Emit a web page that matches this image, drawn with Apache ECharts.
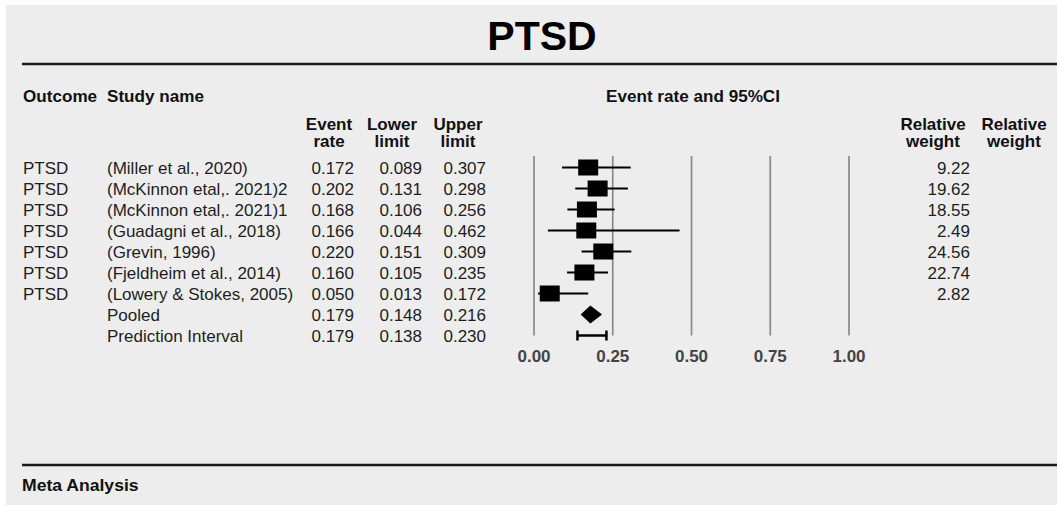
<!DOCTYPE html>
<html>
<head>
<meta charset="utf-8">
<script src="https://cdn.jsdelivr.net/npm/echarts@6/dist/echarts.min.js"></script>
<style>html,body{margin:0;padding:0;background:#fff;}#c{width:1057px;height:505px;}</style>
</head>
<body>
<div id="c"></div>
<script>
// ---- data ----
const chartTitle = 'PTSD';
const footerText = 'Meta Analysis';
const outcomes = ['PTSD', 'PTSD', 'PTSD', 'PTSD', 'PTSD', 'PTSD', 'PTSD'];
const studies = [
  '(Miller et al., 2020)',
  '(McKinnon etal,. 2021)2',
  '(McKinnon etal,. 2021)1',
  '(Guadagni et al., 2018)',
  '(Grevin, 1996)',
  '(Fjeldheim et al., 2014)',
  '(Lowery & Stokes, 2005)'
];
const eventRate = [0.172, 0.202, 0.168, 0.166, 0.220, 0.160, 0.050];
const lowerLimit = [0.089, 0.131, 0.106, 0.044, 0.151, 0.105, 0.013];
const upperLimit = [0.307, 0.298, 0.256, 0.462, 0.309, 0.235, 0.172];
const relativeWeight = [9.22, 19.62, 18.55, 2.49, 24.56, 22.74, 2.82];
const summaryLabels = ['Pooled', 'Prediction Interval'];
const pooledRow = [0.179, 0.148, 0.216];      // rate, lower, upper
const predictionRow = [0.179, 0.138, 0.230];  // rate, lower, upper
const xTicks = [0, 0.25, 0.5, 0.75, 1.0];

// ---- chart ----
const FONT = '"Liberation Sans", Arial, Helvetica, sans-serif';
const chart = echarts.init(document.getElementById('c'), null, { renderer: 'svg' });
const n = studies.length;

const option = {
  backgroundColor: '#ededed',
  animation: false,
  grid: { left: 534, width: 315, top: 157, height: 189 },
  xAxis: {
    type: 'value', min: 0, max: 1, interval: 0.25,
    axisLine: { show: false, onZero: false }, axisTick: { show: false }, splitLine: { show: false },
    axisLabel: { formatter: v => v.toFixed(2), fontSize: 17, fontWeight: 'bold', color: '#444', margin: 2, fontFamily: FONT }
  },
  yAxis: { type: 'value', inverse: true, min: -0.5, max: 8.5, show: false },
  series: [
    {
      type: 'custom', name: 'ref lines', silent: true, z: 1,
      data: xTicks.map(v => [v]),
      renderItem: (p, api) => {
        const a = api.coord([api.value(0), -0.55]);
        const b = api.coord([api.value(0), 8.0]);
        return { type: 'line', shape: { x1: a[0], y1: a[1], x2: b[0], y2: b[1] }, style: { stroke: '#8a8a8a', lineWidth: 1.7 } };
      }
    },
    {
      type: 'custom', name: 'CI', z: 2,
      data: studies.map((s, i) => [lowerLimit[i], upperLimit[i], i]),
      renderItem: (p, api) => {
        const a = api.coord([api.value(0), api.value(2)]);
        const b = api.coord([api.value(1), api.value(2)]);
        return { type: 'line', shape: { x1: a[0], y1: a[1], x2: b[0], y2: b[1] }, style: { stroke: '#000', lineWidth: 2 } };
      }
    },
    {
      type: 'scatter', name: 'Event rate', z: 3,
      data: studies.map((s, i) => [eventRate[i], i]),
      symbol: 'rect', symbolSize: [20, 16],
      itemStyle: { color: '#000', opacity: 1 },
      emphasis: { disabled: true }
    },
    {
      type: 'custom', name: 'Pooled', z: 3,
      data: [[pooledRow[1], pooledRow[2], pooledRow[0], n]],
      renderItem: (p, api) => {
        const l = api.coord([api.value(0), api.value(3)]);
        const r = api.coord([api.value(1), api.value(3)]);
        const c = api.coord([api.value(2), api.value(3)]);
        const h = 9;
        return { type: 'polygon', shape: { points: [[l[0], l[1]], [c[0], c[1] - h], [r[0], r[1]], [c[0], c[1] + h]] }, style: { fill: '#000' } };
      }
    },
    {
      type: 'custom', name: 'Prediction Interval', z: 3,
      data: [[predictionRow[1], predictionRow[2], n + 1]],
      renderItem: (p, api) => {
        const l = api.coord([api.value(0), api.value(2)]);
        const r = api.coord([api.value(1), api.value(2)]);
        const t = 5;
        const st = { stroke: '#000', lineWidth: 2.5 };
        return {
          type: 'group', children: [
            { type: 'line', shape: { x1: l[0], y1: l[1], x2: r[0], y2: r[1] }, style: st },
            { type: 'line', shape: { x1: l[0], y1: l[1] - t, x2: l[0], y2: l[1] + t }, style: st },
            { type: 'line', shape: { x1: r[0], y1: r[1] - t, x2: r[0], y2: r[1] + t }, style: st }
          ]
        };
      }
    }
  ]
};
chart.setOption(option);

// ---- table text (positions from the y axis) ----
const rowY = i => chart.convertToPixel({ yAxisIndex: 0 }, i);
function txt(text, x, y, o) {
  o = o || {};
  const align = o.align || 'left';
  return {
    type: 'text', x: x, y: y, scaleX: o.scaleX || 1, z: 10, silent: true,
    style: {
      text: text, fill: o.color || '#1e1e1e',
      font: (o.weight || 'normal') + ' ' + (o.size || 17) + 'px ' + FONT,
      align: align, textAlign: align, verticalAlign: 'middle', textVerticalAlign: 'middle'
    }
  };
}
const g = [];
// white outer margins
g.push({ type: 'rect', x: 0, y: 0, shape: { width: 1057, height: 5 }, style: { fill: '#fff' }, z: 0, silent: true });
g.push({ type: 'rect', x: 0, y: 0, shape: { width: 6, height: 505 }, style: { fill: '#fff' }, z: 0, silent: true });
// title + rules
g.push(txt(chartTitle, 542, 36, { align: 'center', size: 41, weight: 'bold', color: '#000' }));
g.push({ type: 'line', shape: { x1: 22, y1: 64, x2: 1057, y2: 64 }, style: { stroke: '#1a1a1a', lineWidth: 2.5 }, z: 5, silent: true });
g.push({ type: 'line', shape: { x1: 22, y1: 465, x2: 1057, y2: 465 }, style: { stroke: '#1a1a1a', lineWidth: 2.5 }, z: 5, silent: true });
g.push(txt(footerText, 22, 486, { size: 16, weight: 'bold', color: '#111', scaleX: 1.1 }));
// headers
const H = { weight: 'bold', size: 16, color: '#111', scaleX: 1.07 };
g.push(txt('Outcome', 23, 97, H));
g.push(txt('Study name', 107, 97, H));
g.push(txt('Event rate and 95%CI', 693, 97, Object.assign({}, H, { align: 'center' })));
const HC = { weight: 'bold', size: 17, color: '#111', align: 'center' };
[['Event', 'rate', 329], ['Lower', 'limit', 392], ['Upper', 'limit', 458], ['Relative', 'weight', 933], ['Relative', 'weight', 1014]]
  .forEach(h => { g.push(txt(h[0], h[2], 124, HC)); g.push(txt(h[1], h[2], 141, HC)); });
// rows
const fmt = v => v.toFixed(3);
studies.forEach((s, i) => {
  const y = rowY(i) + 1;
  g.push(txt(outcomes[i], 23, y));
  g.push(txt(s, 107, y));
  g.push(txt(fmt(eventRate[i]), 354, y, { align: 'right' }));
  g.push(txt(fmt(lowerLimit[i]), 422, y, { align: 'right' }));
  g.push(txt(fmt(upperLimit[i]), 486, y, { align: 'right' }));
  g.push(txt(relativeWeight[i].toFixed(2), 970, y, { align: 'right' }));
});
[pooledRow, predictionRow].forEach((r, k) => {
  const y = rowY(n + k) + 1;
  g.push(txt(summaryLabels[k], 107, y));
  g.push(txt(fmt(r[0]), 354, y, { align: 'right' }));
  g.push(txt(fmt(r[1]), 422, y, { align: 'right' }));
  g.push(txt(fmt(r[2]), 486, y, { align: 'right' }));
});
chart.setOption({ graphic: { elements: g } });
</script>
</body>
</html>
